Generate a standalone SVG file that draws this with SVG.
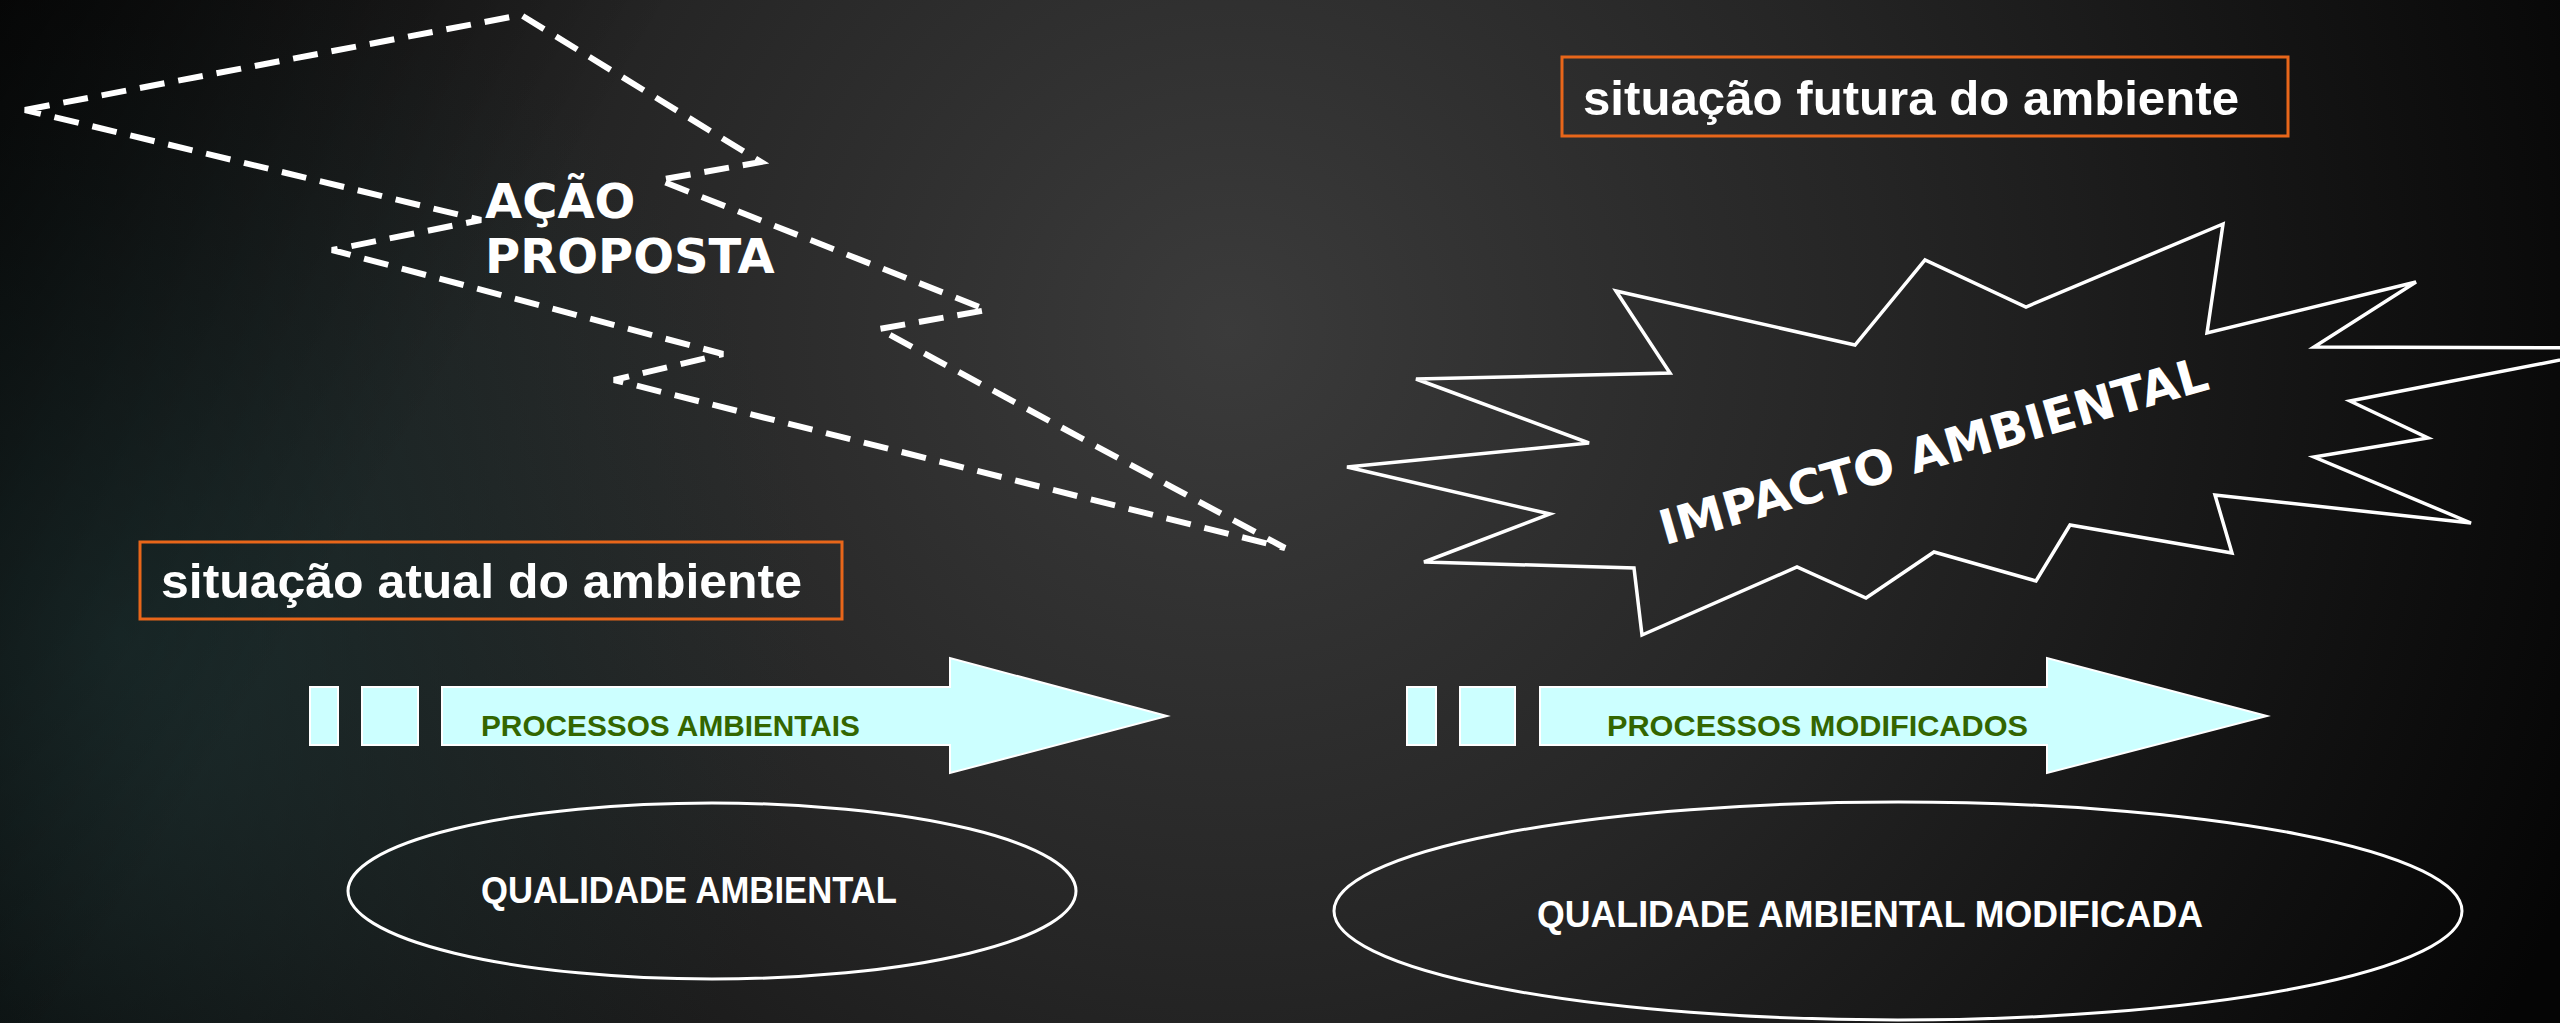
<svg xmlns="http://www.w3.org/2000/svg" width="2560" height="1023" viewBox="0 0 2560 1023">
<defs>
<radialGradient id="bg" cx="1230" cy="330" r="1450" gradientUnits="userSpaceOnUse">
<stop offset="0" stop-color="#3b3b3b"/>
<stop offset="0.45" stop-color="#252525"/>
<stop offset="1" stop-color="#050505"/>
</radialGradient>
<radialGradient id="teal" cx="120" cy="640" r="700" gradientUnits="userSpaceOnUse">
<stop offset="0" stop-color="#1e3434" stop-opacity="0.75"/>
<stop offset="1" stop-color="#1e3434" stop-opacity="0"/>
</radialGradient>
<linearGradient id="tl" x1="0" y1="0" x2="500" y2="300" gradientUnits="userSpaceOnUse">
<stop offset="0" stop-color="#000" stop-opacity="0.55"/>
<stop offset="1" stop-color="#000" stop-opacity="0"/>
</linearGradient>
</defs>
<style>
.lbl{fill:none;stroke:#e8661a;stroke-width:3}
.lbltxt{font-family:"Liberation Sans",Arial,sans-serif;font-weight:bold;font-size:49px;fill:#ffffff}
.arrow{fill:#ccffff;stroke:#ffffff;stroke-width:2}
.proc{font-family:"Liberation Sans",Arial,sans-serif;font-weight:bold;font-size:30px;fill:#336600}
.ell{fill:none;stroke:#ffffff;stroke-width:3}
.qtxt{font-family:"Liberation Sans",Arial,sans-serif;font-weight:bold;font-size:37px;fill:#ffffff}
.big{font-family:"DejaVu Sans",Verdana,sans-serif;font-weight:bold;font-size:48px;fill:#ffffff}
.bolt{fill:none;stroke:#ffffff;stroke-width:6;stroke-dasharray:25 14;stroke-linejoin:miter}
.star{fill:none;stroke:#ffffff;stroke-width:3.5;stroke-linejoin:miter}
</style>
<rect x="0" y="0" width="2560" height="1023" fill="url(#bg)"/>
<rect x="0" y="0" width="2560" height="1023" fill="url(#teal)"/>
<rect x="0" y="0" width="2560" height="1023" fill="url(#tl)"/>

<g id="acao-proposta">
<polygon class="bolt" points="25,110 521,15 761,162 659,180 987,310 879,329 1285,548 614,380 723,354 332,250 481,220"/>
<text class="big" x="485" y="218">AÇÃO</text>
<text class="big" x="485" y="273">PROPOSTA</text>
</g>

<g id="situacao-futura">
<rect class="lbl" x="1562" y="57" width="726" height="79"/>
<text class="lbltxt" x="1583" y="115" textLength="656" lengthAdjust="spacingAndGlyphs">situação futura do ambiente</text>
</g>

<g id="impacto-ambiental">
<polygon class="star" points="1616,291 1670,373 1416,379 1589,443 1347,467 1550,514 1424,562 1634,568 1642,635 1797,567 1866,598 1934,552 2036,581 2070,525 2232,553 2215,495 2471,523 2314,457 2428,438 2350,401 2622,348 2314,347 2416,282 2207,333 2223,224 2026,307 1925,260 1855,345"/>
<text class="big" x="1938" y="467" text-anchor="middle" font-size="50" transform="rotate(-16 1938 467)">IMPACTO AMBIENTAL</text>
</g>

<g id="situacao-atual">
<rect class="lbl" x="140" y="542" width="702" height="77"/>
<text class="lbltxt" x="161" y="598" textLength="641" lengthAdjust="spacingAndGlyphs">situação atual do ambiente</text>
</g>

<g id="processos-ambientais">
<rect class="arrow" x="310" y="687" width="28" height="58"/>
<rect class="arrow" x="362" y="687" width="56" height="58"/>
<polygon class="arrow" points="442,687 950,687 950,658 1167,716 950,773 950,745 442,745"/>
<text class="proc" x="481" y="736" textLength="379" lengthAdjust="spacingAndGlyphs">PROCESSOS  AMBIENTAIS</text>
</g>

<g id="processos-modificados">
<rect class="arrow" x="1407" y="687" width="29" height="58"/>
<rect class="arrow" x="1460" y="687" width="55" height="58"/>
<polygon class="arrow" points="1540,687 2047,687 2047,658 2267,716 2047,773 2047,745 1540,745"/>
<text class="proc" x="1607" y="736" textLength="421" lengthAdjust="spacingAndGlyphs">PROCESSOS  MODIFICADOS</text>
</g>

<g id="qualidade-ambiental">
<ellipse class="ell" cx="712" cy="891" rx="364" ry="88"/>
<text class="qtxt" x="481" y="903" textLength="416" lengthAdjust="spacingAndGlyphs">QUALIDADE AMBIENTAL</text>
</g>

<g id="qualidade-modificada">
<ellipse class="ell" cx="1898" cy="911" rx="564" ry="109"/>
<text class="qtxt" x="1537" y="927" textLength="666" lengthAdjust="spacingAndGlyphs">QUALIDADE AMBIENTAL MODIFICADA</text>
</g>

<g id="connectors"></g>
</svg>
